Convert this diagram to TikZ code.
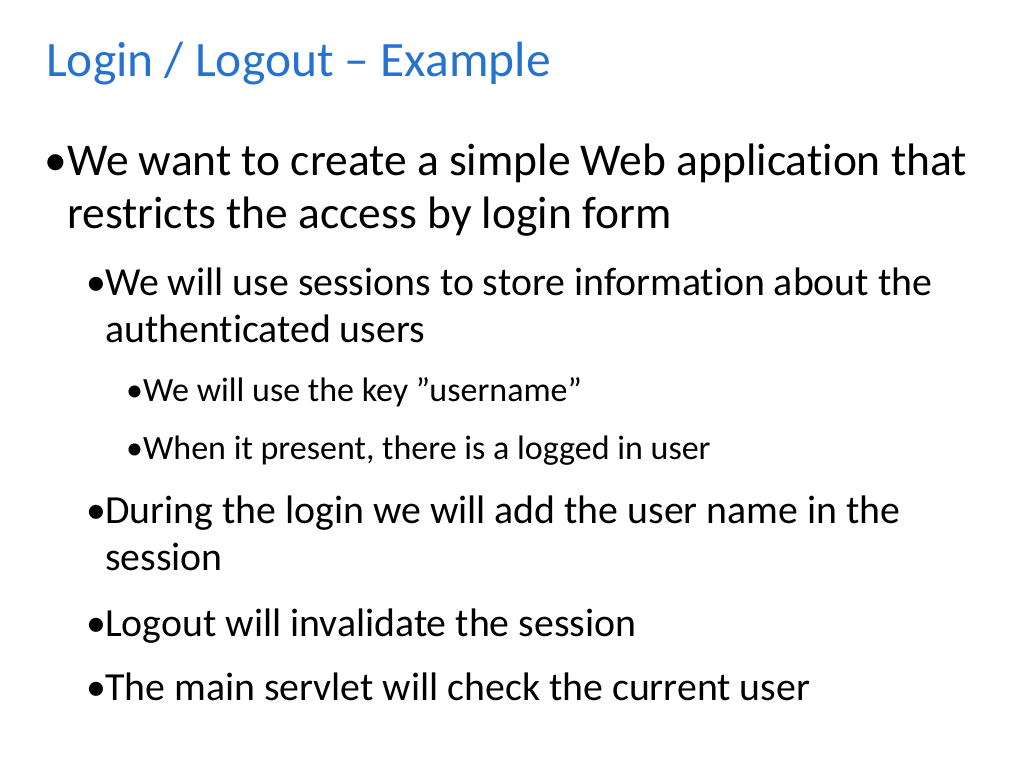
\documentclass[tikz,border=0pt]{standalone}
\usepackage{fontspec}
\setmainfont[RawFeature={-liga;-clig}]{Carlito}
\definecolor{titleblue}{RGB}{38,115,207}
\begin{document}
\begin{tikzpicture}[x=1pt,y=-1pt,
  every node/.style={anchor=base west,inner sep=0pt},
  lone/.style={font=\fontsize{45.5}{45.5}\selectfont},
  ltwo/.style={font=\fontsize{39.8}{39.8}\selectfont},
  lthree/.style={font=\fontsize{34}{34}\selectfont}]
\useasboundingbox (0,0) rectangle (1024,768);
\node[font=\fontsize{49.5}{49.5}\selectfont,text=titleblue] (title) at (46,77) {Login / Logout -- Example};
\node[lone] (b1) at (44,175) {•};
\node[lone] (t1) at (67,175) {We want to create a simple Web application that};
\node[lone] (t1b) at (67,228) {restricts the access by login form};
\node[ltwo] (b2) at (86,295) {•};
\node[ltwo] (t2) at (105,295) {We will use sessions to store information about the};
\node[ltwo] (t2b) at (105,342) {authenticated users};
\node[lthree] (b3) at (126,401) {•};
\node[lthree] (t3) at (143,401) {We will use the key \symbol{34}username\symbol{34}};
\node[lthree] (b4) at (126,459) {•};
\node[lthree] (t4) at (143,459) {When it present, there is a logged in user};
\node[ltwo] (b5) at (86,523) {•};
\node[ltwo] (t5) at (105,523) {During the login we will add the user name in the};
\node[ltwo] (t5b) at (105,570) {session};
\node[ltwo] (b6) at (86,636) {•};
\node[ltwo] (t6) at (105,636) {Logout will invalidate the session};
\node[ltwo] (b7) at (86,700) {•};
\node[ltwo] (t7) at (105,700) {The main servlet will check the current user};
\end{tikzpicture}
\end{document}
